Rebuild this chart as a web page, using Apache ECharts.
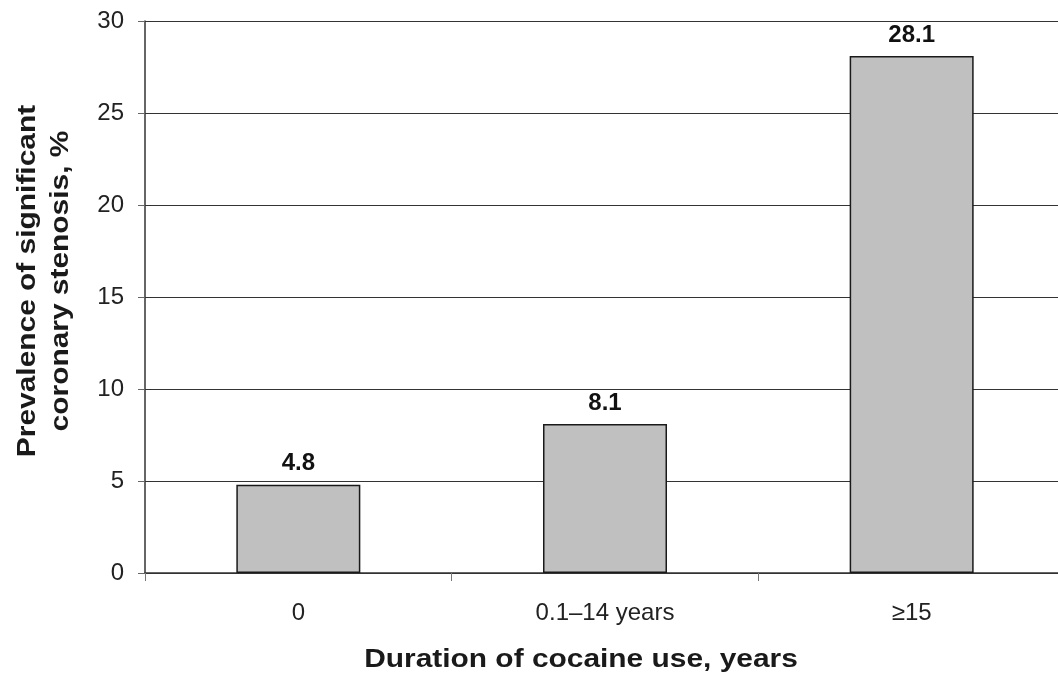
<!DOCTYPE html>
<html>
<head>
<meta charset="utf-8">
<script src="https://cdn.jsdelivr.net/npm/echarts@6/dist/echarts.min.js"></script>
<style>
  html, body { margin: 0; padding: 0; background: #fff; }
  #chart { width: 1058px; height: 677px; }
</style>
</head>
<body>
<div id="chart"></div>
<script>
// Duration groups and prevalence of significant coronary stenosis (%)
const categories = ['0', '0.1\u201314 years', '\u226515'];
const prevalence = [4.8, 8.1, 28.1];
const yTicks = { min: 0, max: 30, interval: 5 };
const xTitle = 'Duration of cocaine use, years';
const yTitle = 'Prevalence of significant\ncoronary stenosis, %';

const FONT = '"Liberation Sans", Arial, sans-serif';

const chart = echarts.init(document.getElementById('chart'));
chart.setOption({
  animation: false,
  backgroundColor: '#ffffff',
  grid: { left: 145, top: 21, width: 920, bottom: 104, outerBoundsMode: 'none', containLabel: false },
  graphic: [
    {
      type: 'text',
      x: 581,
      y: 660,
      scaleX: 1.15,
      style: {
        text: xTitle,
        font: 'bold 26px ' + FONT,
        fill: '#1a1a1a',
        align: 'center',
        verticalAlign: 'middle'
      }
    },
    {
      type: 'text',
      x: 44,
      y: 281,
      rotation: Math.PI / 2,
      scaleX: 1.15,
      style: {
        text: yTitle,
        font: 'bold 26px ' + FONT,
        lineHeight: 33,
        fill: '#1a1a1a',
        align: 'center',
        verticalAlign: 'middle'
      }
    }
  ],
  xAxis: {
    type: 'category',
    data: categories,
    axisLine: { lineStyle: { color: '#333', width: 1.5 } },
    axisTick: { show: true, alignWithLabel: false, length: 8, lineStyle: { color: '#777', width: 1 } },
    axisLabel: { color: '#222', fontSize: 24, fontFamily: FONT, margin: 28 },
    splitLine: { show: false }
  },
  yAxis: {
    type: 'value',
    min: yTicks.min,
    max: yTicks.max,
    interval: yTicks.interval,
    axisLine: { show: true, lineStyle: { color: '#333', width: 1.5 } },
    axisTick: { show: true, length: 7, inside: false, lineStyle: { color: '#666', width: 1 } },
    axisLabel: { color: '#222', fontSize: 24, fontFamily: FONT, margin: 21 },
    splitLine: { show: true, lineStyle: { color: '#333', width: 1.2 } }
  },
  series: [{
    type: 'bar',
    data: prevalence,
    barWidth: 124,
    itemStyle: { color: '#c0c0c0', borderColor: '#1a1a1a', borderWidth: 1.5 },
    label: {
      show: true,
      position: 'top',
      distance: 9,
      color: '#111',
      fontSize: 24,
      fontWeight: 'bold',
      fontFamily: FONT,
      formatter: p => p.value.toFixed(1)
    }
  }]
});
</script>
</body>
</html>
